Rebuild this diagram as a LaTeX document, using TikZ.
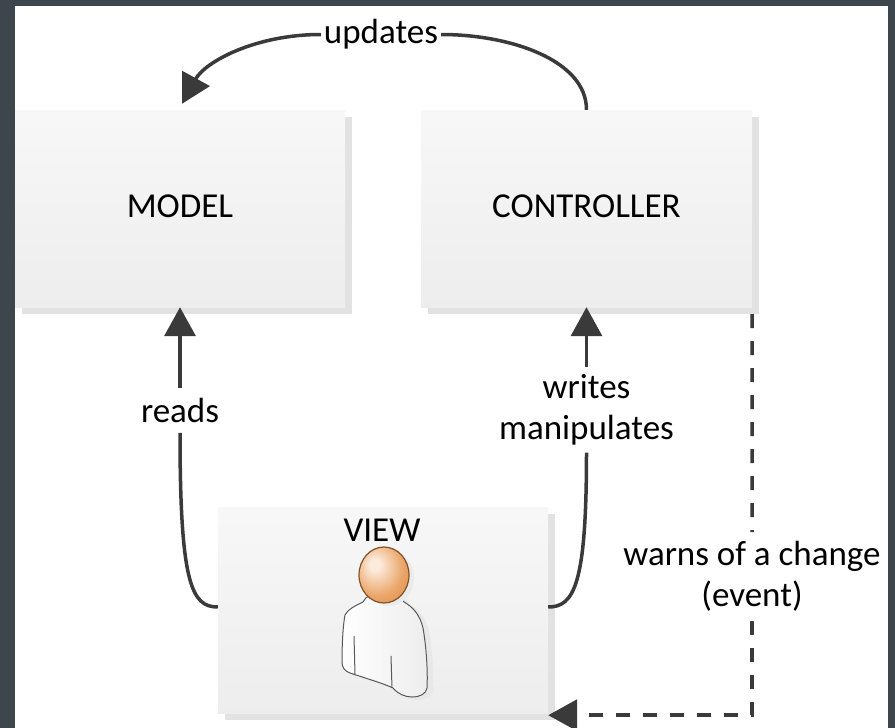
\documentclass[tikz,border=0pt]{standalone}
\usepackage{fontspec}
\setmainfont{Carlito}
\usetikzlibrary{arrows.meta,shadows}
\definecolor{frame}{HTML}{3E464D}
\definecolor{ink}{HTML}{3A3A3A}
\definecolor{boxshadow}{HTML}{E2E2E2}
\definecolor{headlight}{HTML}{FCEBDC}
\definecolor{headmid}{HTML}{EBA66A}
\definecolor{headedge}{HTML}{D9853C}
\definecolor{headline}{HTML}{7E5328}
\pgfdeclareradialshading{headshade}{\pgfpoint{-10bp}{10bp}}{color(0bp)=(headlight); color(5bp)=(headlight); color(25bp)=(headmid); color(45bp)=(headedge); color(70bp)=(headedge)}
\newcommand\personbody{(363,602) .. controls (355,606) and (348,609) .. (345,615)
  .. controls (343,625) and (342,645) .. (342,662)
  .. controls (342,668) and (345,671) .. (350,673)
  .. controls (365,678) and (385,684) .. (393,688)
  .. controls (398,694) and (405,697) .. (412,697)
  .. controls (420,697) and (426,694) .. (427,688)
  .. controls (428,670) and (426,645) .. (423,628)
  .. controls (420,615) and (413,607) .. (404,602)
  .. controls (400,590) and (367,590) .. cycle}
\begin{document}
\begin{tikzpicture}[x=1pt,y=-1pt,
  every node/.style={font=\fontsize{35pt}{41pt}\selectfont, text=black},
  mvcbox/.style={rectangle, minimum width=330pt, minimum height=197pt, inner sep=0pt,
    top color=black!3, bottom color=black!7, draw=none,
    general shadow={fill=boxshadow, shadow xshift=7pt, shadow yshift=-7pt}},
  conn/.style={draw=ink, line width=3.5pt},
  tip/.style={-{Triangle[length=29pt,width=31pt]}},
  dashconn/.style={draw=ink, line width=3.5pt, dash pattern=on 14pt off 13pt},
  lbl/.style={inner xsep=2pt, align=center}
]
\useasboundingbox (0,0) rectangle (895,728);
\fill[frame] (0,0) rectangle (895,728);
\fill[white] (15,6) rectangle (888,728);

% boxes
\node[mvcbox, text depth=5pt] (model) at (180,208.5) {MODEL};
\node[mvcbox, text depth=5pt, minimum width=331pt] (ctrl) at (586.5,208.5) {CONTROLLER};
\node[mvcbox, minimum height=206pt] (view) at (383,610) {};
\node (viewlbl) at (382,530) {VIEW};

% person
\fill[black!9] [shift={(6pt,-3pt)}] \personbody;
\shade[left color=white, right color=black!7, draw=black!65, line width=1pt] \personbody;
\draw[black!65, line width=1pt] (354,636) -- (355,674) (391,656) -- (392,688);
\fill[black!8] (389,578) ellipse [x radius=25, y radius=28];
\shade[shading=headshade, draw=headline, line width=1.2pt] (384,575) ellipse [x radius=25, y radius=28];

% reads
\node[lbl, inner ysep=10pt] (rd) at (180,410.5) {reads};
\draw[conn, tip] (rd.north) -- (model.south);
\draw[conn] ([yshift=3pt]view.west) .. controls (192,607) and (180,585) .. (rd.south);

% writes / manipulates
\node[lbl, inner ysep=7pt] (wr) at (586.5,410) {writes\\manipulates};
\draw[conn, tip] (wr.north) -- (ctrl.south);
\draw[conn] ([yshift=3pt]view.east) .. controls (574,607) and (586.5,585) .. (wr.south);

% updates
\node[lbl, inner sep=3pt] (up) at (381,34.5) {updates};
\draw[conn] (ctrl.north) .. controls (586.5,60) and (510,34.5) .. (up.east);
\draw[conn, tip] (up.west) .. controls (255,34.5) and (205,62) .. ([xshift=2pt,yshift=6pt]model.north);

% warns of a change
\node[lbl, inner ysep=9pt] (warn) at (752,576.5) {warns of a change\\(event)};
\draw[dashconn] ([yshift=-7pt]ctrl.south east) -- (warn.north);
\draw[dashconn, tip] (warn.south) |- ([yshift=-2pt]view.south east);
\end{tikzpicture}
\end{document}
